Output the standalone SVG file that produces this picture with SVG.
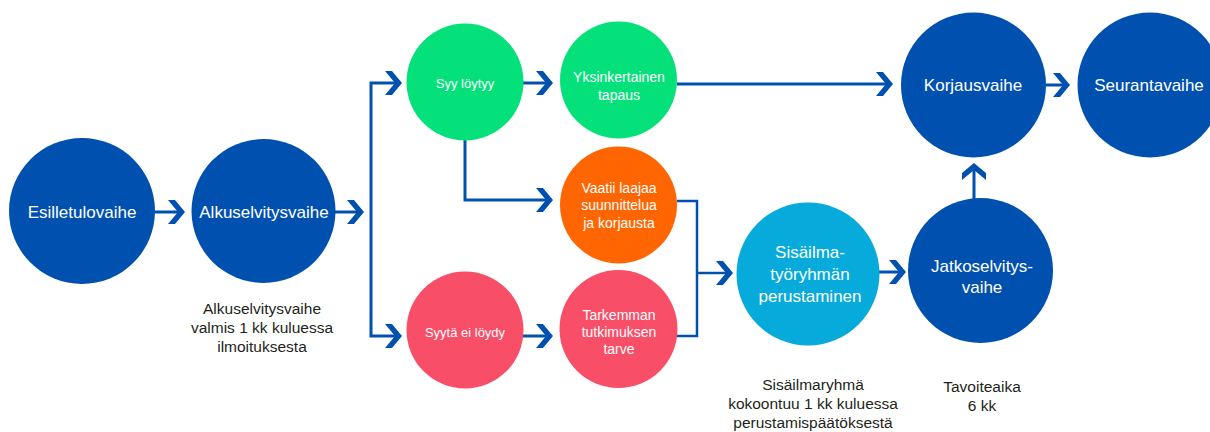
<svg xmlns="http://www.w3.org/2000/svg" xmlns:xlink="http://www.w3.org/1999/xlink" width="1210" height="432" viewBox="0 0 1210 432">
  <style>
    .blue { fill: #0051AF; }
    .green { fill: #05E17A; }
    .orange { fill: #FF6602; }
    .pink { fill: #F94E68; }
    .cyan { fill: #06ABDB; }
    .ct { fill: #ffffff; font-family: "Liberation Sans", Arial, sans-serif; text-anchor: middle; }
    .big { font-size: 17px; }
    .mid { font-size: 14px; }
    .sm { font-size: 13px; }
    .lbl { fill: #231F20; font-family: "Liberation Sans", Arial, sans-serif; font-size: 15.5px; text-anchor: middle; }
    .ln { fill: none; stroke: #0051AF; stroke-width: 3; }
    .ln2 { fill: none; stroke: #0051AF; stroke-width: 2.5; }
    .chev { fill: #0051AF; }
  </style>
  <defs>
    <polygon id="chev" points="-17,-12 -10,-12 0,0 -10,12 -17,12 -7,0"/>
  </defs>
  <rect width="1210" height="432" fill="#ffffff"/>

  <g id="connectors">
    <line class="ln" x1="155" y1="212" x2="178" y2="212"/>
    <use href="#chev" class="chev" transform="translate(185,212)"/>
    <line class="ln" x1="335" y1="212" x2="358" y2="212"/>
    <use href="#chev" class="chev" transform="translate(364,212)"/>
    <polyline class="ln" points="396,83 371,83 371,336 396,336"/>
    <use href="#chev" class="chev" transform="translate(402,83)"/>
    <use href="#chev" class="chev" transform="translate(402,336)"/>
    <line class="ln" x1="523" y1="83" x2="547" y2="83"/>
    <use href="#chev" class="chev" transform="translate(553,83)"/>
    <polyline class="ln" points="465,140 465,200 547,200"/>
    <use href="#chev" class="chev" transform="translate(553,200)"/>
    <line class="ln" x1="523" y1="336" x2="547" y2="336"/>
    <use href="#chev" class="chev" transform="translate(553,336)"/>
    <polyline class="ln2" points="677,201 697,201 697,336 677,336"/>
    <line class="ln2" x1="697" y1="273" x2="727" y2="273"/>
    <use href="#chev" class="chev" transform="translate(733,273)"/>
    <line class="ln" x1="879" y1="272" x2="900" y2="272"/>
    <use href="#chev" class="chev" transform="translate(906,272)"/>
    <line class="ln" x1="677" y1="84" x2="887" y2="84"/>
    <use href="#chev" class="chev" transform="translate(893,84)"/>
    <line class="ln" x1="1046" y1="85" x2="1064" y2="85"/>
    <use href="#chev" class="chev" transform="translate(1070,85)"/>
    <line class="ln" x1="974" y1="199" x2="974" y2="169"/>
    <use href="#chev" class="chev" transform="translate(974,163) rotate(-90)"/>
  </g>

  <g id="esilletulovaihe">
    <circle class="blue" cx="82" cy="211" r="73"/>
    <text class="ct big" x="82" y="218">Esilletulovaihe</text>
  </g>
  <g id="alkuselvitysvaihe">
    <circle class="blue" cx="263.5" cy="211" r="72"/>
    <text class="ct big" x="264" y="218">Alkuselvitysvaihe</text>
  </g>
  <g id="syy-loytyy">
    <circle class="green" cx="465" cy="82" r="58.5"/>
    <text class="ct sm" x="465" y="88">Syy löytyy</text>
  </g>
  <g id="yksinkertainen">
    <circle class="green" cx="618.5" cy="80" r="58.5"/>
    <text class="ct mid" x="619" y="82">Yksinkertainen</text>
    <text class="ct mid" x="619" y="100">tapaus</text>
  </g>
  <g id="vaatii">
    <circle class="orange" cx="618.5" cy="205" r="58.5"/>
    <text class="ct mid" x="619" y="193">Vaatii laajaa</text>
    <text class="ct mid" x="619" y="210">suunnittelua</text>
    <text class="ct mid" x="619" y="228">ja korjausta</text>
  </g>
  <g id="syyta-ei-loydy">
    <circle class="pink" cx="465" cy="330" r="58.5"/>
    <text class="ct sm" x="465" y="337">Syytä ei löydy</text>
  </g>
  <g id="tarkemman">
    <circle class="pink" cx="618.5" cy="329" r="59"/>
    <text class="ct mid" x="619" y="320">Tarkemman</text>
    <text class="ct mid" x="619" y="337">tutkimuksen</text>
    <text class="ct mid" x="619" y="354">tarve</text>
  </g>
  <g id="sisailma">
    <circle class="cyan" cx="808" cy="274" r="71.5"/>
    <text class="ct big" x="810" y="258">Sisäilma-</text>
    <text class="ct big" x="810" y="280">työryhmän</text>
    <text class="ct big" x="810" y="302">perustaminen</text>
  </g>
  <g id="jatkoselvitysvaihe">
    <circle class="blue" cx="980.5" cy="270.5" r="72.5"/>
    <text class="ct big" x="982" y="272">Jatkoselvitys-</text>
    <text class="ct big" x="982" y="293">vaihe</text>
  </g>
  <g id="korjausvaihe">
    <circle class="blue" cx="973.5" cy="85" r="72.5"/>
    <text class="ct big" x="973" y="91">Korjausvaihe</text>
  </g>
  <g id="seurantavaihe">
    <circle class="blue" cx="1150" cy="85" r="72.5"/>
    <text class="ct big" x="1149" y="91">Seurantavaihe</text>
  </g>

  <g id="labels">
    <text class="lbl" x="262" y="314">Alkuselvitysvaihe</text>
    <text class="lbl" x="262" y="333">valmis 1 kk kuluessa</text>
    <text class="lbl" x="262" y="352">ilmoituksesta</text>
    <text class="lbl" x="813" y="390">Sisäilmaryhmä</text>
    <text class="lbl" x="813" y="409">kokoontuu 1 kk kuluessa</text>
    <text class="lbl" x="813" y="428">perustamispäätöksestä</text>
    <text class="lbl" x="982" y="392">Tavoiteaika</text>
    <text class="lbl" x="982" y="411">6 kk</text>
  </g>
</svg>
